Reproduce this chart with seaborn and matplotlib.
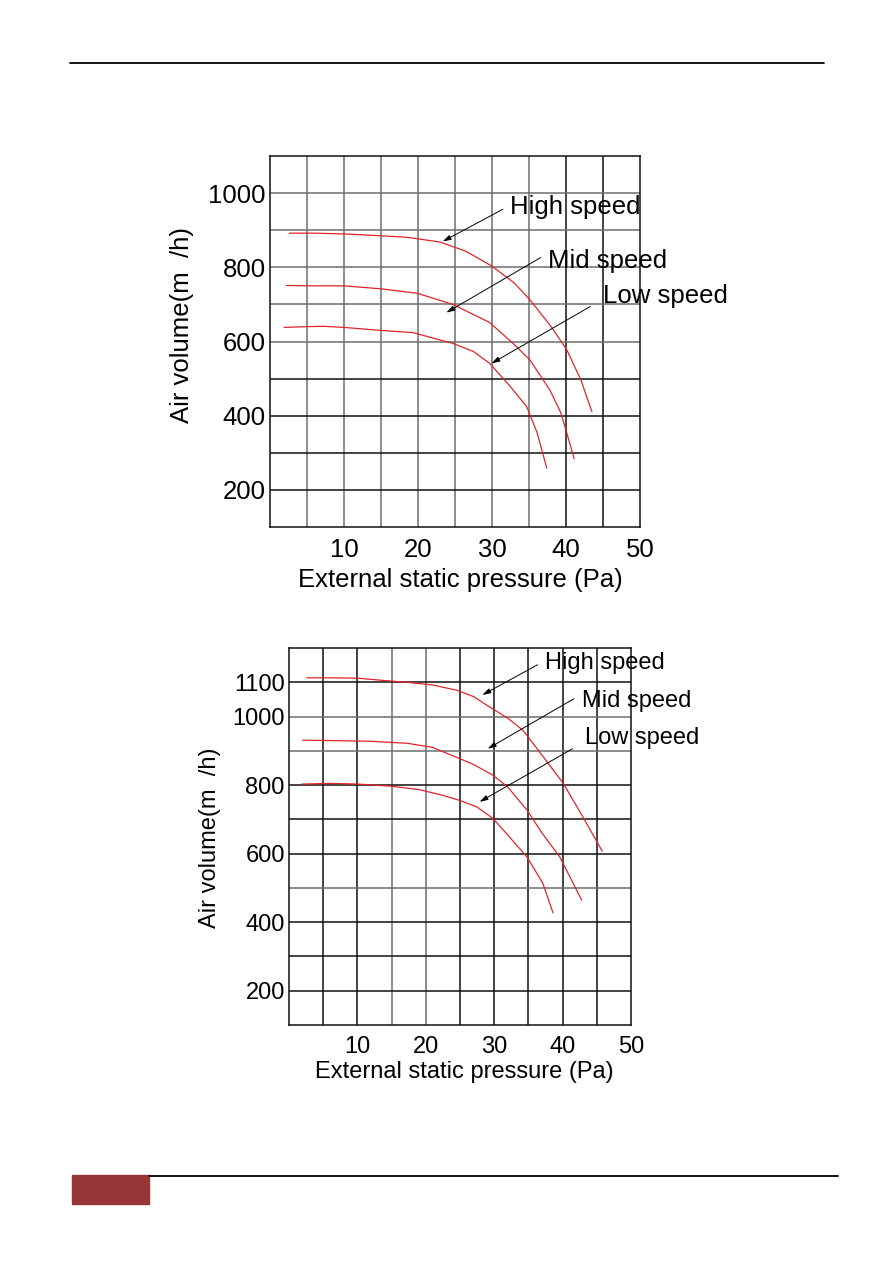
"""
Courbes débit d'air / pression statique externe (deux modèles)
"""

import matplotlib
matplotlib.use("Agg")
import matplotlib.pyplot as plt
from matplotlib.lines import Line2D
from matplotlib.patches import Rectangle
import pandas as pd
import seaborn as sns

top_high_x = [2.6, 6, 10, 14, 18.5, 23, 26.5, 30, 33, 35.1, 38, 40.1, 42, 43.5]
top_high_y = [892, 892, 890, 886, 881, 868, 843, 803, 758, 713, 640, 578, 497, 411]
top_mid_x = [2.2, 6, 10, 15, 19.9, 24.7, 29.7, 33, 35.1, 37.8, 39.3, 40.1, 41.1]
top_mid_y = [751, 750, 750, 742, 730, 700, 651, 592, 551, 470, 408, 354, 284]
top_low_x = [1.9, 5, 7.2, 10, 14.9, 19.3, 24.7, 27.5, 29.7, 32.5, 34.7, 36.1, 37.4]
top_low_y = [638, 640, 641, 638, 630, 624, 595, 573, 541, 478, 424, 354, 259]

bot_high_x = [2.6, 6, 10, 14, 17.3, 21, 24.5, 27, 29.4, 32, 34.2, 37, 40.1, 43, 45.8]
bot_high_y = [1113, 1113, 1112, 1105, 1100, 1092, 1077, 1058, 1027, 995, 960, 887, 805, 706, 607]
bot_mid_x = [2.0, 6, 11.8, 17.3, 21, 24.5, 27, 29.8, 32, 34.8, 37, 39.6, 41.3, 42.8]
bot_mid_y = [931, 930, 928, 922, 910, 881, 860, 829, 794, 727, 660, 590, 523, 464]
bot_low_x = [1.9, 6, 10, 14.8, 19, 22.5, 25, 27.5, 29.8, 32, 34.8, 37.1, 38.6]
bot_low_y = [803, 805, 803, 797, 787, 770, 755, 736, 703, 654, 590, 514, 427]

x_ticks = [10, 20, 30, 40, 50]
top_y_ticks = [200, 400, 600, 800, 1000]
bot_y_ticks = [200, 400, 600, 800, 1000, 1100]
speed_labels = ["High speed", "Mid speed", "Low speed"]

RED = "#e0252a"
DARK = "#111111"
GREY = "#6e6e6e"
W, H = 893, 1263

sns.set_style("white")
plt.rcParams["font.family"] = ["Liberation Sans", "DejaVu Sans"]
plt.rcParams.update({"text.color": "black", "axes.labelcolor": "black",
                     "xtick.color": "black", "ytick.color": "black"})


def px_axes(fig, left, top, right, bottom):
    """Créer un axe à partir de coordonnées en pixels."""
    return fig.add_axes([left / W, 1 - bottom / H, (right - left) / W, (bottom - top) / H])


def draw_chart(ax, curves, ymin, ymax, yticks, dark_v, dark_h, fs_tick, fs_lab,
               notes, ylab_xy, xlab_xy):
    # grille : une colonne tous les 5 Pa, une ligne tous les 100
    for xv in range(5, 50, 5):
        ax.axvline(xv, color=DARK if xv in dark_v else GREY, lw=1.1, zorder=1)
    for yv in range(ymin + 100, ymax, 100):
        ax.axhline(yv, color=DARK if yv in dark_h else GREY, lw=1.1, zorder=1)

    for cx, cy in curves:
        df = pd.DataFrame({"p": cx, "q": cy})
        sns.lineplot(data=df, x="p", y="q", ax=ax, color=RED, lw=0.9,
                     estimator=None, sort=False, zorder=3)

    ax.set_xlim(0, 50)
    ax.set_ylim(ymin, ymax)
    ax.set_xticks(x_ticks)
    ax.set_yticks(yticks)
    ax.tick_params(length=0, labelsize=fs_tick)
    ax.tick_params(axis="x", pad=8)
    ax.tick_params(axis="y", pad=3)
    for s in ax.spines.values():
        s.set_color(DARK)
        s.set_linewidth(1.1)

    ax.set_xlabel("External static pressure (Pa)", fontsize=fs_lab)
    ax.set_ylabel("Air volume(m  /h)", fontsize=fs_lab)
    ax.xaxis.set_label_coords(*xlab_xy)
    ax.yaxis.set_label_coords(*ylab_xy)

    for label, (tx, ty), (ax0, ay0), (ax1, ay1) in notes:
        ax.text(tx, ty, label, fontsize=fs_lab, va="center", ha="left",
                clip_on=False, zorder=4)
        ax.annotate("", xy=(ax1, ay1), xytext=(ax0, ay0),
                    arrowprops=dict(arrowstyle="-|>,head_length=0.5,head_width=0.15",
                                    color="black", lw=0.7),
                    annotation_clip=False)


fig = plt.figure(figsize=(W / 100, H / 100), dpi=100)

# en-tête / pied de page
fig.add_artist(Line2D([70 / W, 824 / W], [1 - 63 / H] * 2, color="black", lw=1.3))
fig.add_artist(Line2D([149 / W, 838 / W], [1 - 1176 / H] * 2, color="black", lw=1.3))
fig.add_artist(Rectangle((72 / W, 1 - 1204 / H), 77 / W, 29 / H,
                         transform=fig.transFigure, color="#963636"))

ax1 = px_axes(fig, 270, 156, 640, 527)
draw_chart(
    ax1,
    [(top_high_x, top_high_y), (top_mid_x, top_mid_y), (top_low_x, top_low_y)],
    100, 1100, top_y_ticks,
    dark_v={40, 45}, dark_h={200, 300, 400, 500},
    fs_tick=18.5, fs_lab=18.5,
    notes=[
        (speed_labels[0], (32.4, 962), (31.8, 960), (23.0, 866)),
        (speed_labels[1], (37.6, 816), (36.9, 830), (23.5, 674)),
        (speed_labels[2], (45.0, 722), (43.6, 698), (29.6, 537)),
    ],
    ylab_xy=(-0.205, 0.545), xlab_xy=(0.514, -0.11),
)

ax2 = px_axes(fig, 289, 648, 631, 1025)
draw_chart(
    ax2,
    [(bot_high_x, bot_high_y), (bot_mid_x, bot_mid_y), (bot_low_x, bot_low_y)],
    100, 1200, bot_y_ticks,
    dark_v={5, 10, 25, 30, 35, 40, 45}, dark_h={200, 300, 400, 600, 700, 800, 1100},
    fs_tick=17, fs_lab=17,
    notes=[
        (speed_labels[0], (37.4, 1155), (36.7, 1155), (27.9, 1059)),
        (speed_labels[1], (42.8, 1045), (42.0, 1056), (28.7, 902)),
        (speed_labels[2], (43.3, 937), (41.8, 910), (27.5, 747)),
    ],
    ylab_xy=(-0.2, 0.496), xlab_xy=(0.513, -0.095),
)

plt.savefig("out.png", dpi=100)
